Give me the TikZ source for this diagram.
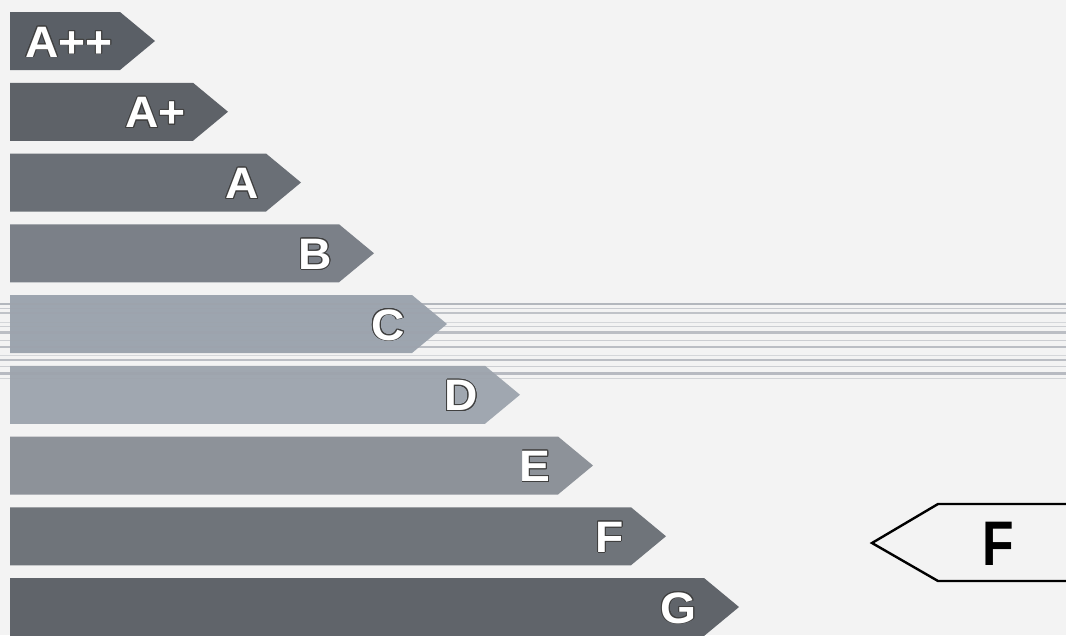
\documentclass[tikz,border=0pt]{standalone}
\usepackage{fontspec}
\setmainfont{Liberation Sans}
\usepackage{contour}
\contourlength{0.9pt}
\definecolor{bg}{HTML}{F3F3F3}
\definecolor{stripe}{HTML}{9EA3AC}
\tikzset{
  barlab/.style={inner sep=0pt, text=white, font=\bfseries\fontsize{44}{44}\selectfont, xscale=1.05, transform shape},
  bigarrow/.style={draw=black, line width=2.4pt, line join=miter},
  biglab/.style={inner sep=0pt, text=black, font=\bfseries\fontsize{63}{63}\selectfont, xscale=0.82, transform shape}
}
\begin{document}
\begin{tikzpicture}[x=1pt,y=-1pt]
\useasboundingbox (0,0) rectangle (1066,635);
\fill[bg] (0,0) rectangle (1066,635);
% bars
\foreach \i/\col in {0/5A5F66, 1/5E6268, 2/6A6F76, 3/7B8088, 4/9DA5AF, 5/A0A7B0, 6/8D9299, 7/6F747A, 8/60646A} {
  \pgfmathsetmacro\t{12+70.75*\i}
  \pgfmathsetmacro\b{\t+58}
  \pgfmathsetmacro\c{\t+29}
  \pgfmathsetmacro\e{120+73*\i}
  \pgfmathsetmacro\p{\e+35}
  \definecolor{barc}{HTML}{\col}
  \fill[barc] (10,\t) -- (\e,\t) -- (\p,\c) -- (\e,\b) -- (10,\b) -- cycle;
}
% scanning streaks across the C and D rows
\foreach \y/\w/\o in {304/2.5/0.75, 308/1/0.5, 313/1.5/0.6, 322/1/0.35, 326/1/0.45, 332/3/0.65, 340/1/0.45, 347/2/0.65, 355/1/0.35, 360/1.5/0.65, 366/1/0.45, 373/3/0.7, 378/1/0.4} {
  \draw[stripe, line width=\w pt, opacity=\o] (0,\y) -- (1066,\y);
}
% class letters
\foreach \i/\lab in {0/A++, 1/A+, 2/A, 3/B, 4/C, 5/D, 6/E, 7/F, 8/G} {
  \pgfmathsetmacro\c{12+70.75*\i+29}
  \pgfmathsetmacro\e{120+73*\i}
  \node[barlab, anchor=base east] (lab\i) at (\e-7,\c+16) {\contour{black!75}{\lab}};
}
% current class marker
\draw[bigarrow] (1070,504) -- (938,504) -- (872,543) -- (938,581) -- (1070,581);
\node[biglab, anchor=base] (cur) at (998,565) {F};
\end{tikzpicture}
\end{document}
